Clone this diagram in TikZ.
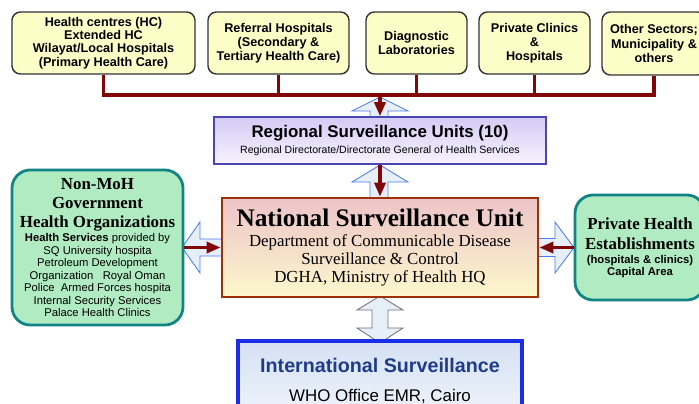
\documentclass[tikz,border=0pt]{standalone}
\usepackage{fontspec}
\setmainfont{Liberation Sans}
\newfontfamily\timesfont{Liberation Serif}
\usepackage{tikz}
\usetikzlibrary{arrows.meta,positioning,calc}
\definecolor{cRed}{RGB}{128,8,8}
\definecolor{cTop}{HTML}{FDFDC8}
\definecolor{cGreen}{HTML}{B0EBC2}
\definecolor{cTeal}{HTML}{138484}
\definecolor{cRegEdge}{HTML}{4A48B0}
\definecolor{cRegTop}{HTML}{D4CBF5}
\definecolor{cRegBot}{HTML}{F6F4FD}
\definecolor{cNsuEdge}{HTML}{A0300A}
\definecolor{cNsuTop}{HTML}{ECC4C8}
\definecolor{cNsuBot}{HTML}{FDF8CC}
\definecolor{cIntEdge}{HTML}{1A2EE8}
\definecolor{cIntTop}{HTML}{D4E0F2}
\definecolor{cIntBot}{HTML}{F2F6FC}
\definecolor{cIntText}{HTML}{1F3C88}
\definecolor{cArrEdge}{HTML}{4D7CF0}
\definecolor{cArrFill}{HTML}{E6EEF8}
\tikzset{
  topbox/.style={rectangle, rounded corners=6pt, draw=black!80, line width=1pt, fill=cTop, align=center, minimum height=1.55cm, font=\bfseries\fontsize{9}{10}\selectfont},
  regbox/.style={rectangle, draw=cRegEdge, line width=1.2pt, top color=cRegTop, bottom color=cRegBot, align=center, minimum width=8.3cm, minimum height=1.175cm},
  nsubox/.style={rectangle, draw=cNsuEdge, line width=2pt, top color=cNsuTop, bottom color=cNsuBot, align=center, minimum width=7.9cm, minimum height=2.475cm, font=\timesfont\fontsize{12}{12.8}\selectfont},
  greenbox/.style={rectangle, rounded corners=13pt, draw=cTeal, line width=2pt, fill=cGreen, align=center},
  intbox/.style={rectangle, draw=cIntEdge, line width=2.4pt, top color=cIntTop, bottom color=cIntBot, align=center, minimum width=7.1cm, minimum height=2cm, font=\fontsize{12}{14}\selectfont},
  hollow/.style={draw=cArrEdge, fill=cArrFill, line width=0.6pt},
  bus/.style={line width=2.2pt, draw=cRed},
  redarr/.style={-{Triangle[length=3.5mm, width=2.8mm]}, line width=2.2pt, draw=cRed},
}
\begin{document}
\begin{tikzpicture}[x=0.025cm, y=-0.025cm]
  \useasboundingbox (0,0) rectangle (699,403);
  % block arrows sit behind the boxes
  \draw[hollow] (370,120) -- (370,111) -- (352,111) -- (380,97) -- (408,111) -- (388,111) -- (388,120) -- cycle;
  \draw[hollow] (370,201) -- (370,182) -- (352,182) -- (380,165) -- (408,182) -- (388,182) -- (388,201) -- cycle;
  \draw[hollow] (225,239) -- (200,239) -- (200,222) -- (182,247.5) -- (200,273) -- (200,256) -- (225,256) -- cycle;
  \draw[hollow] (535,238.5) -- (555,238.5) -- (555,222) -- (574,247.5) -- (555,273) -- (555,256.5) -- (535,256.5) -- cycle;
  \draw[hollow, draw=black!55, fill=cArrFill] (372,310) -- (357,310) -- (380,296) -- (403,310) -- (388,310) -- (388,328) -- (403,328) -- (380,343) -- (357,328) -- (372,328) -- cycle;

  \node[topbox, minimum width=4.575cm, font=\bfseries\fontsize{9}{9.4}\selectfont] (hc) at (103.5,43)
    {Health centres (HC)\\Extended HC\\Wilayat/Local Hospitals\\(Primary Health Care)};
  \node[topbox, minimum width=3.525cm] (ref) at (278.5,43) {Referral Hospitals\\(Secondary \&\\Tertiary Health Care)};
  \node[topbox, minimum width=2.525cm] (lab) at (416.5,43) {Diagnostic\\Laboratories};
  \node[topbox, minimum width=2.775cm] (pcl) at (534.5,43) {Private Clinics\\\&\\Hospitals};
  \node[topbox, minimum width=2.6cm, minimum height=1.575cm] (oth) at (654,43.5) {Other Sectors;\\Municipality \&\\others};

  \node[regbox] (reg) at (380,140.5)
    {{\bfseries\fontsize{12}{13}\selectfont Regional Surveillance Units (10)}\\{\fontsize{7.5}{9}\selectfont Regional Directorate/Directorate General of Health Services}};
  \node[nsubox] (nsu) at (380,247.5)
    {{\bfseries\fontsize{18}{20}\selectfont National Surveillance Unit}\\[2pt]Department of Communicable Disease\\Surveillance \& Control\\DGHA, Ministry of Health HQ};
  \node[greenbox, minimum width=4.275cm, minimum height=3.875cm, font=\fontsize{8}{8.9}\selectfont] (gov) at (97.5,247.5)
    {{\timesfont\bfseries\fontsize{12}{13}\selectfont Non-MoH}\\[4.6pt]
     {\timesfont\bfseries\fontsize{12}{13}\selectfont Government}\\[4.6pt]
     {\timesfont\bfseries\fontsize{12}{13}\selectfont Health Organizations}\\[1.2pt]
     \textbf{Health Services} provided by\\SQ University hospita\\Petroleum Development\\
     Organization\ \ \ Royal Oman\\Police\ \ Armed Forces hospita\\Internal Security Services\\Palace Health Clinics};
  \node[greenbox, minimum width=3.25cm, minimum height=2.625cm, font=\bfseries\fontsize{8}{8.5}\selectfont] (priv) at (640,247.5)
    {{\timesfont\bfseries\fontsize{12}{13}\selectfont Private Health}\\[5.5pt]
     {\timesfont\bfseries\fontsize{12}{13}\selectfont Establishments}\\[1.5pt]
     (hospitals \& clinics)\\Capital Area};
  \node[intbox] (int) at (380,381)
    {{\bfseries\fontsize{14}{16}\selectfont\color{cIntText}International Surveillance}\\[6pt]WHO Office EMR, Cairo};

  \coordinate (hub) at (380,95);
  \draw[bus] (hc.south) |- (hub) -| (oth.south);
  \foreach \n in {ref,lab,pcl}
    \draw[bus] (\n.south) -- (\n.south |- hub);
  \draw[redarr] (hub) -- (reg.north);
  \draw[redarr] (reg.south) -- (nsu.north);
  \draw[redarr] (gov.east) -- (nsu.west);
  \draw[redarr] (priv.west) -- (nsu.east);
\end{tikzpicture}
\end{document}
